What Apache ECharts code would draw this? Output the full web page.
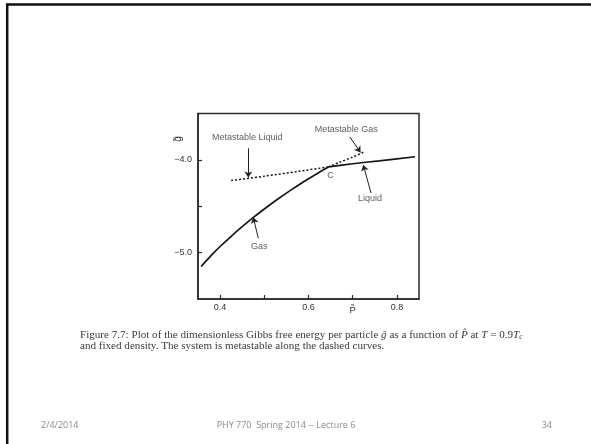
<!DOCTYPE html>
<html><head><meta charset="utf-8">
<script src="https://cdn.jsdelivr.net/npm/echarts@6.0.0/dist/echarts.min.js"></script>
<style>html,body{margin:0;padding:0;background:#fff}#c{width:591px;height:444px}</style>
</head><body><div id="c"></div>
<script>
// ---- data ----
const gasP = [0.357, 0.38, 0.40, 0.43, 0.45, 0.474, 0.50, 0.53, 0.56, 0.59, 0.62, 0.645];
const gasG = [-5.15, -5.03, -4.934, -4.802, -4.72, -4.626, -4.53, -4.425, -4.326, -4.233, -4.146, -4.076];
const liqP = [0.645, 0.70, 0.76, 0.841];
const liqG = [-4.076, -4.042, -4.01, -3.966];
const metaLiqP = [0.425, 0.50, 0.58, 0.645];
const metaLiqG = [-4.222, -4.176, -4.122, -4.076];
const metaGasP = [0.645, 0.67, 0.70, 0.724];
const metaGasG = [-4.076, -4.026, -3.970, -3.918];

const annText = ['Metastable Liquid', 'Metastable Gas', 'C', 'Liquid', 'Gas'];
const annP = [0.4615, 0.6855, 0.650, 0.739, 0.4887];
const annG = [-3.764, -3.668, -4.174, -4.414, -4.929];

const arrowFromP = [0.4638, 0.6935, 0.7414, 0.4865];
const arrowFromG = [-3.875, -3.753, -4.357, -4.846];
const arrowToP = [0.4638, 0.7177, 0.7240, 0.4751];
const arrowToG = [-4.19, -3.920, -4.055, -4.619];

const xTickLabels = [0.4, 0.6, 0.8];
const xTicks = [0.4, 0.5, 0.6, 0.7, 0.8];
const yTickLabels = [-5.0, -4.0];
const yTicks = [-5.0, -4.5, -4.0];

const captionLine2 = 'and fixed density. The system is metastable along the dashed curves.';
const footerLeft = '2/4/2014';
const footerCenter = 'PHY 770  Spring 2014 -- Lecture 6';
const footerRight = '34';

// ---- chart ----
const zip = (a, b) => a.map((v, i) => [v, b[i]]);
const chart = echarts.init(document.getElementById('c'), null, {renderer: 'canvas'});
const axisFont = {fontFamily: 'Liberation Sans', fontSize: 9, color: '#333'};
const lineColor = '#151515';

const option = {
  animation: false,
  backgroundColor: '#fff',
  grid: {left: 198, right: 172, top: 113.5, bottom: 145, show: true,
         borderColor: '#2a2a2a', borderWidth: 1.5, backgroundColor: 'transparent'},
  xAxis: {
    type: 'value', min: 0.35, max: 0.85,
    splitLine: {show: false},
    axisLine: {show: true, lineStyle: {color: '#2a2a2a', width: 1.5}},
    axisTick: {show: true, inside: true, length: 4, customValues: xTicks, lineStyle: {color: '#2a2a2a', width: 1.2}},
    axisLabel: Object.assign({customValues: xTickLabels, margin: 4, formatter: v => v.toFixed(1)}, axisFont)
  },
  yAxis: {
    type: 'value', min: -5.5, max: -3.5,
    splitLine: {show: false},
    axisLine: {show: true, lineStyle: {color: '#2a2a2a', width: 1.5}},
    axisTick: {show: true, inside: true, length: 4, customValues: yTicks, lineStyle: {color: '#2a2a2a', width: 1.2}},
    axisLabel: Object.assign({customValues: yTickLabels, margin: 6, formatter: v => v.toFixed(1).replace('-', '\u2212')}, axisFont)
  },
  series: [
    {type: 'line', name: 'Gas', data: zip(gasP, gasG), smooth: 0.3, symbol: 'none',
     lineStyle: {color: lineColor, width: 1.7}},
    {type: 'line', name: 'Liquid', data: zip(liqP, liqG), smooth: 0.3, symbol: 'none',
     lineStyle: {color: lineColor, width: 1.7}},
    {type: 'line', name: 'Metastable Liquid', data: zip(metaLiqP, metaLiqG), smooth: 0.3, symbol: 'none',
     lineStyle: {color: lineColor, width: 1.5, type: [2, 2]}},
    {type: 'line', name: 'Metastable Gas', data: zip(metaGasP, metaGasG), smooth: 0.3, symbol: 'none',
     lineStyle: {color: lineColor, width: 1.5, type: [2, 2]}},
    {type: 'scatter', name: 'labels', symbolSize: 0, silent: true,
     data: annText.map((t, i) => ({value: [annP[i], annG[i]], name: t})),
     label: {show: true, position: 'inside', formatter: p => p.name,
             fontFamily: 'Liberation Sans', fontSize: 9, color: '#333'}},
    {type: 'lines', name: 'arrows', coordinateSystem: 'cartesian2d', silent: true,
     symbol: ['none', 'arrow'], symbolSize: [0, 6],
     lineStyle: {color: '#222', width: 1, opacity: 1},
     data: arrowFromP.map((p, i) => ({coords: [[p, arrowFromG[i]], [arrowToP[i], arrowToG[i]]]}))}
  ]
};
chart.setOption(option);

const pAxisPos = chart.convertToPixel({xAxisIndex: 0}, 0.7);
const capSize = 11.1;
const capFont = {fontFamily: 'Liberation Serif', fontSize: capSize, fill: '#3a3a3a'};
chart.setOption({
  graphic: [
    // slide frame (top and left edges)
    {type: 'line', shape: {x1: 6, y1: 4.5, x2: 591, y2: 4.5}, style: {stroke: '#111', lineWidth: 2.5}, silent: true},
    {type: 'line', shape: {x1: 7.2, y1: 3.5, x2: 7.2, y2: 444}, style: {stroke: '#111', lineWidth: 2.5}, silent: true},
    // axis names
    {type: 'text', x: 178, y: 139, rotation: Math.PI / 2, silent: true,
     style: {text: 'g\u0303', fontFamily: 'Liberation Sans', fontSize: 10, fill: '#333', align: 'center', verticalAlign: 'middle'}},
    {type: 'text', x: pAxisPos, y: 310, silent: true,
     style: {text: 'P\u0303', fontFamily: 'Liberation Sans', fontSize: 9.5, fill: '#333', align: 'center', verticalAlign: 'middle'}},
    // caption
    {type: 'text', x: 80, y: 335, silent: true,
     style: Object.assign({
       text: 'Figure 7.7: Plot of the dimensionless Gibbs free energy per particle {i|\u011d} as a function of {i|P\u0302} at {i|T} = 0.9{i|T}{s|c}',
       verticalAlign: 'middle',
       rich: {i: {fontFamily: 'Liberation Serif', fontStyle: 'italic', fontSize: capSize, fill: '#3a3a3a'},
              s: {fontFamily: 'Liberation Serif', fontStyle: 'italic', fontSize: 7.5, fill: '#3a3a3a', padding: [5, 0, 0, 0]}}
     }, capFont)},
    {type: 'text', x: 80, y: 346, silent: true,
     style: Object.assign({text: captionLine2, verticalAlign: 'middle'}, capFont)},
    // footer
    {type: 'text', x: 41, y: 425, silent: true,
     style: {text: footerLeft, fontFamily: 'Open Sans', fontSize: 9, fill: '#8a8a8a', verticalAlign: 'middle'}},
    {type: 'text', x: 286, y: 425, silent: true,
     style: {text: footerCenter, fontFamily: 'Open Sans', fontSize: 9, fill: '#8a8a8a', align: 'center', verticalAlign: 'middle'}},
    {type: 'text', x: 552, y: 425, silent: true,
     style: {text: footerRight, fontFamily: 'Open Sans', fontSize: 9, fill: '#8a8a8a', align: 'right', verticalAlign: 'middle'}}
  ]
});
</script>
</body></html>
